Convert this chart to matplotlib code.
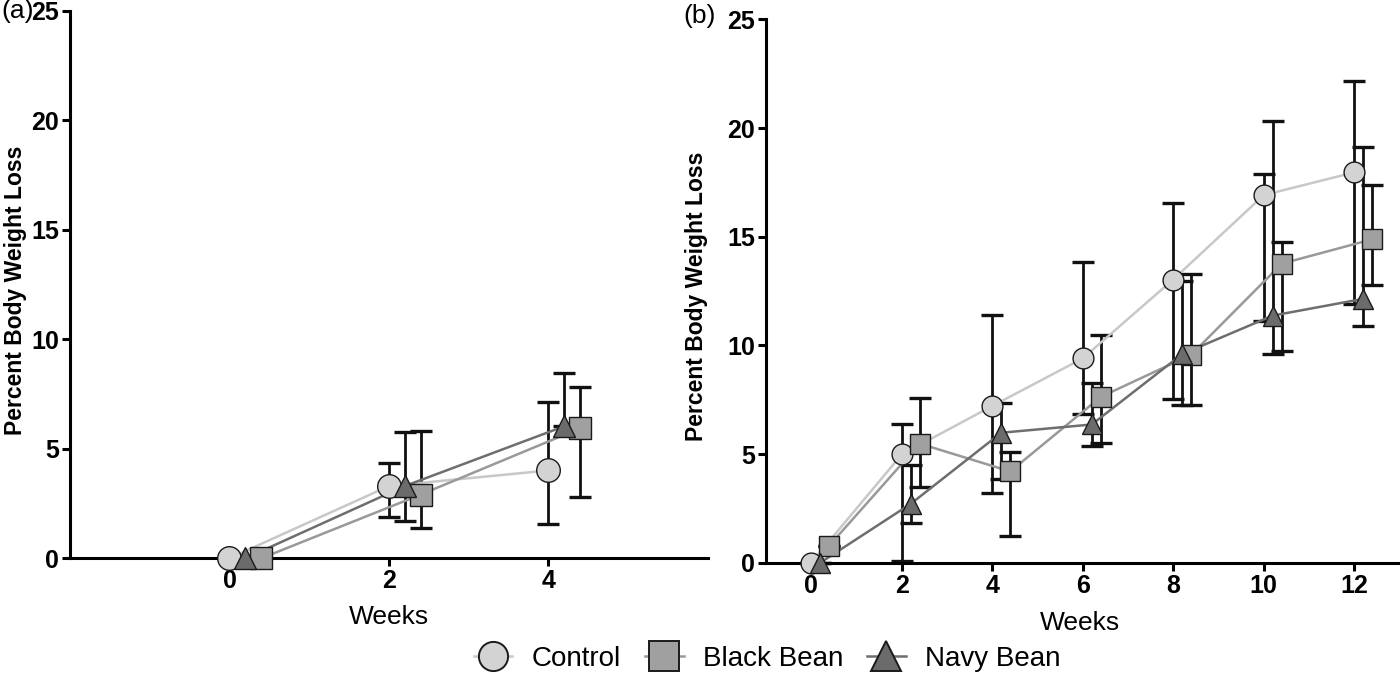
import matplotlib
matplotlib.use("Agg")
import matplotlib.pyplot as plt
from matplotlib.lines import Line2D
import numpy as np

plt.rcParams['font.family'] = ['Liberation Sans', 'DejaVu Sans']

# Panel (a): 4 semanas
weeks_a = [0, 2, 4]
control_a = [0, 3.30, 4.01]
control_a_hi = [0, 4.37, 7.13]
control_a_lo = [0, 1.90, 1.57]
black_a = [0, 2.91, 5.94]
black_a_hi = [0, 5.83, 7.84]
black_a_lo = [0, 1.38, 2.82]
navy_a = [0, 3.30, 6.03]
navy_a_hi = [0, 5.77, 8.44]
navy_a_lo = [0, 1.72, 6.03]

# Panel (b): 12 semanas
weeks_b = [0, 2, 4, 6, 8, 10, 12]
control_b = [0, 4.98, 7.21, 9.40, 13.03, 16.91, 17.96]
control_b_hi = [0, 6.40, 11.42, 13.83, 16.55, 17.87, 22.15]
control_b_lo = [0, 0.08, 3.23, 6.86, 7.55, 11.14, 11.91]
black_b = [0.79, 5.48, 4.20, 7.63, 9.57, 13.76, 14.88]
black_b_hi = [0.79, 7.60, 5.10, 10.49, 13.30, 14.76, 17.38]
black_b_lo = [0.79, 3.48, 1.23, 5.49, 7.26, 9.75, 12.79]
navy_b = [0, 2.71, 5.98, 6.36, 9.60, 11.37, 12.14]
navy_b_hi = [0, 4.51, 7.37, 8.29, 12.94, 20.33, 19.12]
navy_b_lo = [0, 1.85, 3.85, 5.39, 7.26, 9.60, 10.91]

groups = ['Control', 'Black Bean', 'Navy Bean']
nudge = {'Control': 0.0, 'Black Bean': 0.4, 'Navy Bean': 0.2}
marker = {'Control': 'o', 'Black Bean': 's', 'Navy Bean': '^'}
face = {'Control': '#d3d3d3', 'Black Bean': '#a0a0a0', 'Navy Bean': '#6b6b6b'}
line_col = {'Control': '#c8c8c8', 'Black Bean': '#999999', 'Navy Bean': '#6e6e6e'}


def serie(ax, weeks, y, hi, lo, g, ms):
    x = np.array(weeks) + nudge[g]
    y = np.array(y)
    yerr = [y - np.array(lo), np.array(hi) - y]
    ax.errorbar(x, y, yerr=yerr, fmt='none', ecolor='#111111', elinewidth=2.0,
                capsize=8, capthick=2.4, zorder=2, clip_on=False)
    ax.plot(x, y, '-', color=line_col[g], lw=1.8, zorder=3, clip_on=False)
    ax.plot(x, y, linestyle='none', marker=marker[g], ms=ms, mfc=face[g],
            mec='#1a1a1a', mew=1.0, zorder=4, clip_on=False)


def ejes(ax, xlim, xticks, ylab_x, xlab_x, xlab_y):
    ax.set_xlim(*xlim)
    ax.set_ylim(0, 25)
    ax.set_xticks(xticks)
    ax.set_yticks([0, 5, 10, 15, 20, 25])
    for s in ['top', 'right']:
        ax.spines[s].set_visible(False)
    for s in ['left', 'bottom']:
        ax.spines[s].set_linewidth(2.2)
    ax.tick_params(direction='out', length=6, width=2.2, labelsize=18, pad=2)
    for t in ax.get_xticklabels() + ax.get_yticklabels():
        t.set_fontweight('bold')
    ax.set_ylabel('Percent Body Weight Loss', fontsize=16.5, fontweight='bold')
    ax.yaxis.set_label_coords(ylab_x, 0.49)
    ax.set_xlabel('Weeks', fontsize=19)
    ax.xaxis.set_label_coords(xlab_x, xlab_y)


fig = plt.figure(figsize=(14, 6.78), dpi=100)
ax1 = fig.add_axes([0.05, 0.1766, 0.4557, 0.8076])
ax2 = fig.add_axes([0.5471, 0.170, 0.4525, 0.8015])

serie(ax1, weeks_a, control_a, control_a_hi, control_a_lo, 'Control', 17)
serie(ax1, weeks_a, black_a, black_a_hi, black_a_lo, 'Black Bean', 16)
serie(ax1, weeks_a, navy_a, navy_a_hi, navy_a_lo, 'Navy Bean', 16)

serie(ax2, weeks_b, control_b, control_b_hi, control_b_lo, 'Control', 15)
serie(ax2, weeks_b, black_b, black_b_hi, black_b_lo, 'Black Bean', 14)
serie(ax2, weeks_b, navy_b, navy_b_hi, navy_b_lo, 'Navy Bean', 14)

ejes(ax1, (-2, 6), [0, 2, 4], -0.067, 0.5, -0.085)
ejes(ax2, (-1, 13), [0, 2, 4, 6, 8, 10, 12], -0.091, 0.495, -0.089)

fig.text(0.001, 0.984, '(a)', fontsize=19, va='center', ha='left')
fig.text(0.488, 0.976, '(b)', fontsize=19, va='center', ha='left')

handles = [Line2D([], [], color=line_col[g], lw=1.8, marker=marker[g], ms=21,
                  mfc=face[g], mec='#1a1a1a', mew=1.4) for g in groups]
fig.legend(handles, groups, loc='center', bbox_to_anchor=(0.548, 0.028), ncol=3,
           frameon=False, fontsize=20, handlelength=1.4, columnspacing=0.85,
           handletextpad=0.7, borderpad=0.2)

fig.savefig('out.png', dpi=100)
